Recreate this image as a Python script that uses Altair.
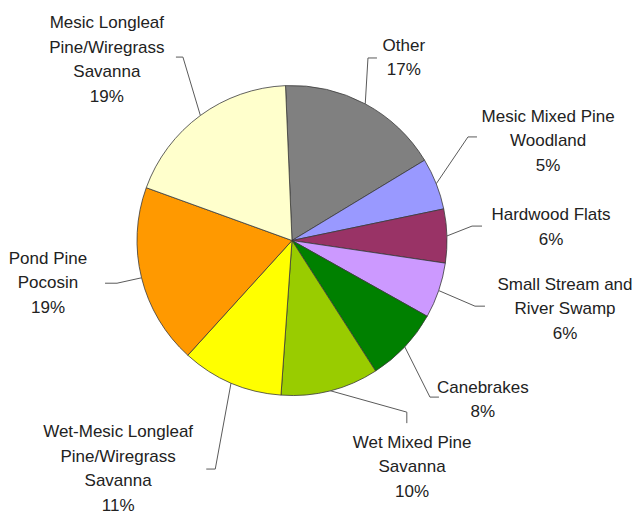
import altair as alt
import pandas as pd
import math

# ---- data (clockwise from 12 o'clock) ----
categories = ["Other", "Mesic Mixed Pine Woodland", "Hardwood Flats",
              "Small Stream and River Swamp", "Canebrakes", "Wet Mixed Pine Savanna",
              "Wet-Mesic Longleaf Pine/Wiregrass Savanna", "Pond Pine Pocosin",
              "Mesic Longleaf Pine/Wiregrass Savanna"]
values = [17.0, 5.4, 5.6, 5.8, 7.8, 10.2, 10.6, 18.8, 18.8]
pct_labels = ["17%", "5%", "6%", "6%", "8%", "10%", "11%", "19%", "19%"]
label_lines = ["Other", "Mesic Mixed Pine\nWoodland", "Hardwood Flats",
               "Small Stream and\nRiver Swamp", "Canebrakes", "Wet Mixed Pine\nSavanna",
               "Wet-Mesic Longleaf\nPine/Wiregrass\nSavanna", "Pond Pine\nPocosin",
               "Mesic Longleaf\nPine/Wiregrass\nSavanna"]

# ---- styling / layout (kept separate from the data) ----
colors = ["#808080", "#9999FF", "#993366", "#CC99FF", "#008000",
          "#99CC00", "#FFFF00", "#FF9900", "#FFFFCC"]
label_dangle = [3.3, 0.3, -1.2, -4.7, -3.4, -13.6, 14.1, 4.0, -9.5]
label_radius = [214, 274.7, 259.3, 281.5, 248.8, 256.8, 287.2, 247.7, 258.5]
elbow_dangle = [-5.6, -9, -2.9, 0.9, 5.3, -19.5, -4.6, 0.2, 5.5]
elbow_radius = [197.7, 204.2, 180.6, 194.4, 208.7, 206.5, 241.1, 180.1, 213.4]
tick_dx = [9, 9, 10, 10, 9, 0, -9, -12, -7]
tick_dy = [0, 0, 0, 0, 0, 11, 0, 0, 0]

W, H = 584, 481
R = 155
LH = 24.5
START = -2.4 * math.pi / 180

full_labels = [f"{l}\n{p}" for l, p in zip(label_lines, pct_labels)]

df = pd.DataFrame({
    "order": list(range(len(categories))),
    "category": categories,
    "value": values,
    "label": full_labels,
    "nlines": [t.count("\n") + 1 for t in full_labels],
    "ldang": label_dangle,
    "lrad": label_radius,
    "edang": elbow_dangle,
    "erad": elbow_radius,
    "tdx": tick_dx,
    "tdy": tick_dy,
})

base = alt.Chart(df).transform_joinaggregate(
    total="sum(value)"
).transform_window(
    cum="sum(value)", sort=[alt.SortField("order")], frame=[None, 0]
).transform_calculate(
    a1=f"{START} + (datum.cum - datum.value) / datum.total * 2 * PI",
    a2=f"{START} + datum.cum / datum.total * 2 * PI",
).transform_calculate(
    mid="(datum.a1 + datum.a2) / 2"
).transform_calculate(
    lt="datum.mid + datum.ldang * PI / 180",
    ea="datum.mid + datum.edang * PI / 180",
    x0=f"{W/2} + {R} * sin(datum.mid)",
    y0=f"{H/2} - {R} * cos(datum.mid)",
).transform_calculate(
    x1=f"{W/2} + datum.erad * sin(datum.ea)",
    y1=f"{H/2} - datum.erad * cos(datum.ea)",
    lx=f"{W/2} + datum.lrad * sin(datum.lt)",
    ly=f"{H/2} - datum.lrad * cos(datum.lt) - (datum.nlines - 1) * {LH} / 2",
).transform_calculate(
    x2="datum.x1 + datum.tdx",
    y2="datum.y1 + datum.tdy",
)

pie = base.mark_arc(outerRadius=R, stroke="#3a3a3a", strokeWidth=0.8).encode(
    theta=alt.Theta("a1:Q", scale=None),
    theta2="a2:Q",
    color=alt.Color("category:N", scale=alt.Scale(domain=categories, range=colors), legend=None),
)

lead1 = base.mark_rule(color="#5a5a5a", strokeWidth=1).encode(
    x=alt.X("x0:Q", scale=None, axis=None),
    y=alt.Y("y0:Q", scale=None, axis=None),
    x2="x1:Q", y2="y1:Q",
)
lead2 = base.mark_rule(color="#5a5a5a", strokeWidth=1).encode(
    x=alt.X("x1:Q", scale=None, axis=None),
    y=alt.Y("y1:Q", scale=None, axis=None),
    x2="x2:Q", y2="y2:Q",
)

labels = base.mark_text(
    lineBreak="\n", fontSize=17, font="Liberation Sans", lineHeight=LH,
    align="center", baseline="middle", color="#222222",
).encode(
    x=alt.X("lx:Q", scale=None, axis=None),
    y=alt.Y("ly:Q", scale=None, axis=None),
    text="label:N",
)

chart = alt.layer(pie, lead1, lead2, labels).properties(
    width=W, height=H,
    autosize=alt.AutoSizeParams(type="none"),
    padding={"left": 0, "top": 0, "right": 60, "bottom": 33},
    background="white",
).configure_view(stroke=None)

chart.save("out.html", embed_options={"renderer": "svg", "actions": False})
